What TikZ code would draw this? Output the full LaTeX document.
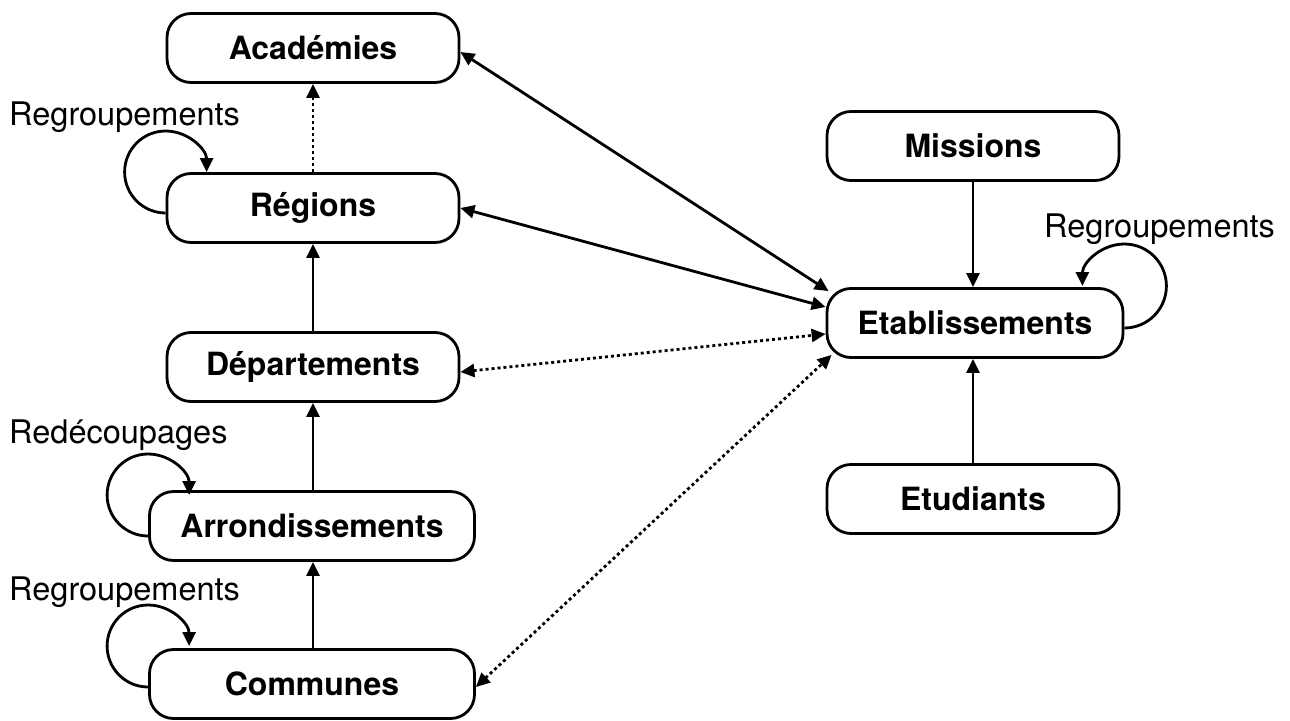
\documentclass[tikz,border=0pt]{standalone}
\usepackage{fontspec}
\setmainfont{TeX Gyre Heros}
\usetikzlibrary{arrows.meta}
\begin{document}
\begin{tikzpicture}[x=1pt,y=-1pt,
 box/.style={draw, line width=2.8pt, rounded corners=24pt, minimum height=69pt, inner sep=0pt, font=\fontsize{32}{36}\selectfont\bfseries},
 lbl/.style={anchor=base west, inner sep=0pt, font=\fontsize{32.5}{36}\selectfont},
 conn/.style={line width=2.8pt, -{Triangle[length=14pt,width=13pt]}},
 both/.style={line width=2.8pt, {Triangle[length=14pt,width=13pt]}-{Triangle[length=14pt,width=13pt]}},
 dots/.style={dash pattern=on 3pt off 3pt},
]
\useasboundingbox (0,0) rectangle (1290,720);

% nodes
\node[box, minimum width=292pt] (acad) at (313,48) {Académies};
\node[box, minimum width=292pt] (reg) at (313,208) {Régions};
\node[box, minimum width=292pt] (dep) at (313,367) {Départements};
\node[box, minimum width=325pt] (arr) at (312,526) {Arrondissements};
\node[box, minimum width=325pt] (comm) at (312,684) {Communes};
\node[box, minimum width=292pt] (miss) at (973,146) {Missions};
\node[box, minimum width=296pt] (etab) at (975,323) {Etablissements};
\node[box, minimum width=292pt] (etud) at (973,499) {Etudiants};

% labels
\node[lbl] (l1) at (9,125) {Regroupements};
\node[lbl] (l2) at (9,443) {Redécoupages};
\node[lbl] (l3) at (9,600) {Regroupements};
\node[lbl] (l4) at (1044,237) {Regroupements};

% vertical connectors
\draw[conn, dots] (reg.north) -- (acad.south);
\draw[conn] (dep.north) -- (reg.south);
\draw[conn] (dep.south |- arr.north) -- (dep.south);
\draw[conn] (dep.south |- comm.north) -- (dep.south |- arr.south);
\draw[conn] (miss.south) -- (miss.south |- etab.north);
\draw[conn] (etud.north) -- (etud.north |- etab.south);

% links to Etablissements
\draw[both] ([yshift=-4pt]acad.east) -- ([xshift=3pt,yshift=-4pt]etab.north west);
\draw[both] (reg.east) -- ([yshift=16pt]etab.west);
\draw[both, dots] ([yshift=-5pt]dep.east) -- ([yshift=-11pt]etab.west);
\draw[both, dots] ([yshift=-3pt]comm.east) -- ([xshift=6pt,yshift=4pt]etab.south west);

% loops
\draw[conn] ([yshift=-5pt]reg.west) arc[start angle=-90, end angle=-360, radius=41pt];
\draw[conn] ([yshift=-10pt]arr.west) arc[start angle=-90, end angle=-360, radius=41pt];
\draw[conn] ([yshift=-3pt]comm.west) arc[start angle=-90, end angle=-360, radius=41pt];
\draw[conn] ([yshift=-5pt]etab.east) arc[start angle=-90, end angle=180, radius=42pt];
\end{tikzpicture}
\end{document}
